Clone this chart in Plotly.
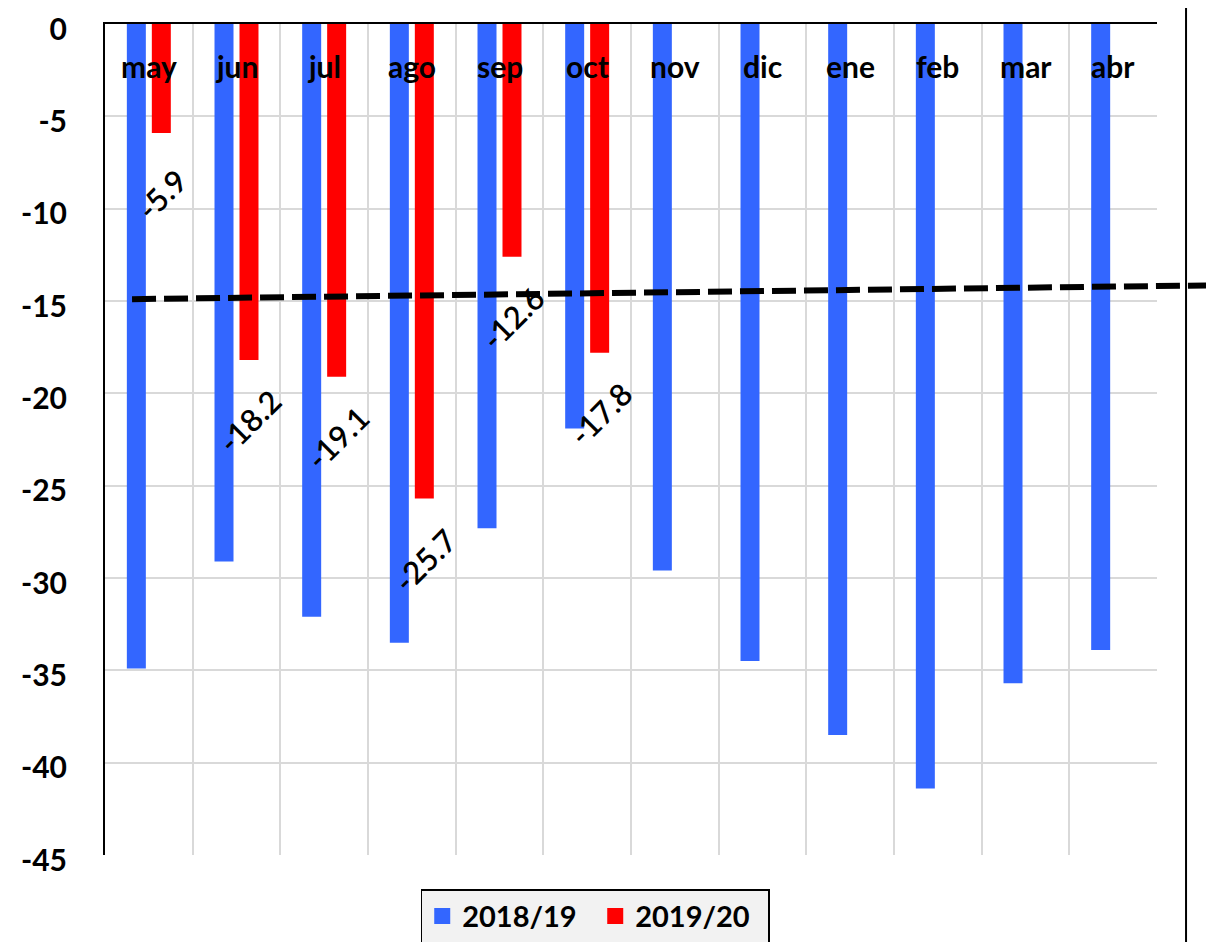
import plotly.graph_objects as go

months = ["may", "jun", "jul", "ago", "sep", "oct", "nov", "dic", "ene", "feb", "mar", "abr"]
s2018_19 = [-34.9, -29.1, -32.1, -33.5, -27.3, -21.9, -29.6, -34.5, -38.5, -41.4, -35.7, -33.9]
s2019_20 = [-5.9, -18.2, -19.1, -25.7, -12.6, -17.8]
months_2019_20 = months[:len(s2019_20)]
trend_x_paper = [0.0257, 1.054]
trend_y = [-14.9, -14.15]
y_ticks = [0, -5, -10, -15, -20, -25, -30, -35, -40, -45]

BLUE = "#3366FF"
RED = "#FF0000"
FONT = "Lato"

fig = go.Figure()
fig.add_trace(go.Bar(x=months, y=s2018_19, name="2018/19", marker=dict(color=BLUE, line=dict(width=0)),
                     showlegend=False))
fig.add_trace(go.Bar(x=months_2019_20, y=s2019_20, name="2019/20", marker=dict(color=RED, line=dict(width=0)),
                     showlegend=False))
# legend-only entries (larger square symbols)
fig.add_trace(go.Scatter(x=[None], y=[None], mode="markers", name="2018/19",
                         marker=dict(symbol="square", size=18, color=BLUE)))
fig.add_trace(go.Scatter(x=[None], y=[None], mode="markers", name="2019/20",
                         marker=dict(symbol="square", size=18, color=RED)))

annotations = []
for m, v in zip(months_2019_20, s2019_20):
    annotations.append(dict(x=m, y=v, xref="x", yref="y", text=f"{v:.1f}", showarrow=False,
                            textangle=-45, xanchor="center", yanchor="middle",
                            xshift=13, yshift=-61,
                            font=dict(family=FONT, size=31, color="black", weight=600)))
for m in months:
    annotations.append(dict(x=m, y=1, xref="x", yref="paper", text=m, showarrow=False,
                            xanchor="center", yanchor="middle", yshift=-42,
                            font=dict(family=FONT, size=30, color="black", weight="bold")))

shapes = [
    dict(type="line", xref="paper", yref="y", x0=trend_x_paper[0], x1=trend_x_paper[1],
         y0=trend_y[0], y1=trend_y[1], line=dict(color="black", width=6, dash="24px,8px"), layer="above"),
    dict(type="line", xref="paper", yref="paper", x0=1.0276, x1=1.0276, y0=-0.2, y1=1.1,
         line=dict(color="black", width=2)),
]

fig.update_layout(
    width=1206, height=934,
    margin=dict(l=97, r=57, t=16, b=87, autoexpand=False),
    paper_bgcolor="white", plot_bgcolor="white",
    barmode="group", bargap=0.43, bargroupgap=0.24,
    font=dict(family=FONT, color="black"),
    legend=dict(orientation="h", x=0.466, xanchor="center", y=-0.041, yanchor="top",
                bgcolor="#f2f2f2", bordercolor="black", borderwidth=1.5, entrywidth=128,
                font=dict(family=FONT, size=29, color="black", weight="bold")),
    annotations=annotations,
    shapes=shapes,
)
fig.update_xaxes(type="category", categoryorder="array", categoryarray=months,
                 range=[-0.5, len(months) - 0.5],
                 side="top", showticklabels=False, ticks="",
                 showgrid=True, gridcolor="#d9d9d9", gridwidth=2, tickson="boundaries",
                 showline=True, linecolor="black", linewidth=2, zeroline=False)
fig.update_yaxes(range=[-45, 0], tickvals=y_ticks, ticktext=[str(t) for t in y_ticks],
                 showgrid=True, gridcolor="#d9d9d9", gridwidth=2,
                 showline=True, linecolor="black", linewidth=2, zeroline=False,
                 ticks="", ticklabelstandoff=30, ticklabelshift=5,
                 automargin=False, ticklabeloverflow="allow",
                 tickfont=dict(family=FONT, size=30, color="black", weight="bold"))

fig.write_html("out.html")
